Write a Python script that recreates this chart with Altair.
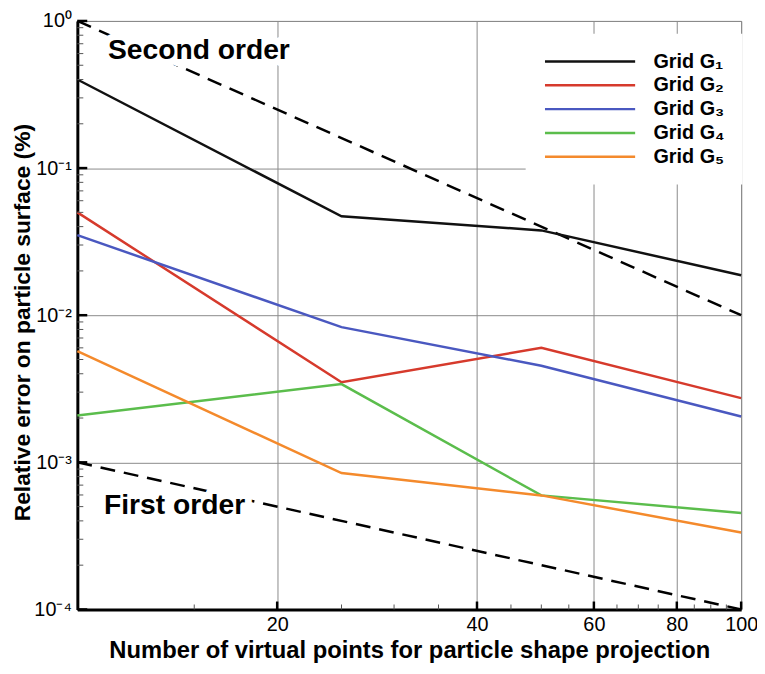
import altair as alt
import pandas as pd

# ---- data ----
x_points = [10, 25, 50, 100]
g1 = [0.40, 0.047, 0.0377, 0.0187]
g2 = [0.050, 0.0035, 0.0060, 0.00273]
g3 = [0.035, 0.0083, 0.00453, 0.00205]
g4 = [0.00208, 0.0034, 0.000596, 0.000453]
g5 = [0.0057, 0.000845, 0.000596, 0.000333]
series_names = ["Grid G₁", "Grid G₂", "Grid G₃", "Grid G₄", "Grid G₅"]
series_colors = ["#111111", "#d63a2c", "#4a58c0", "#5bbd4c", "#f48a2c"]

second_x = [10, 100]
second_y = [1.0, 0.01]
first_x = [10, 100]
first_y = [0.001, 0.0001]

ann_text = ["Second order", "First order"]
ann_x = [11.12, 10.97]
ann_y = [0.638, 0.000511]

x_tick_values = [20, 40, 60, 80, 100]
x_minor_ticks = [15, 25, 30, 35, 45, 50, 55, 65, 70, 75, 85, 90, 95]
y_tick_values = [0.0001, 0.001, 0.01, 0.1, 1]
y_tick_labels = ["10⁻⁴", "10⁻³", "10⁻²", "10⁻¹", "10⁰"]
y_minor_ticks = [
    0.0002, 0.0003, 0.0004, 0.0005, 0.0006, 0.0007, 0.0008, 0.0009,
    0.002, 0.003, 0.004, 0.005, 0.006, 0.007, 0.008, 0.009,
    0.02, 0.03, 0.04, 0.05, 0.06, 0.07, 0.08, 0.09,
    0.2, 0.3, 0.4, 0.5, 0.6, 0.7, 0.8, 0.9,
]

W, H = 670, 594
FONT = "Liberation Sans"

rows = []
for name, vals in zip(series_names, [g1, g2, g3, g4, g5]):
    for xv, yv in zip(x_points, vals):
        rows.append({"x": xv, "y": yv, "series": name})
df = pd.DataFrame(rows)

ref_df = pd.DataFrame(
    [{"x": a, "y": b, "kind": "second"} for a, b in zip(second_x, second_y)]
    + [{"x": a, "y": b, "kind": "first"} for a, b in zip(first_x, first_y)]
)
ann_df = pd.DataFrame({"x": ann_x, "y": ann_y, "label": ann_text})

xs = alt.Scale(type="log", domain=[10, 100], nice=False)
ys = alt.Scale(type="log", domain=[0.0001, 1], nice=False)

label_expr = "[" + ",".join("'%s'" % s for s in y_tick_labels) + "][round(log(datum.value)/LN10)+4]"

x_axis = alt.Axis(
    values=x_tick_values, format="d", labelFont=FONT, labelFontSize=20, labelColor="black",
    labelPadding=5, labelFlush=False, ticks=False, domainColor="black", domainWidth=3,
    grid=True, gridColor="#8a8a8a", gridWidth=1,
    title="Number of virtual points for particle shape projection",
    titleFont=FONT, titleFontSize=24, titleFontWeight="bold", titleColor="black",
    titleBaseline="alphabetic", titleY=49,
)
y_axis = alt.Axis(
    values=y_tick_values, labelExpr=label_expr, labelFont=FONT, labelFontSize=20,
    labelColor="black", labelPadding=6, ticks=False, domainColor="black", domainWidth=3,
    grid=True, gridColor="#8a8a8a", gridWidth=1,
    title="Relative error on particle surface (%)",
    titleFont=FONT, titleFontSize=23, titleFontWeight="bold", titleColor="black",
    titleBaseline="bottom", titleX=-43, titleY=304,
)


def X():
    return alt.X("x:Q", scale=xs, axis=x_axis)


def Y():
    return alt.Y("y:Q", scale=ys, axis=y_axis)


ref_lines = alt.Chart(ref_df).mark_line(color="black", strokeWidth=2.5, strokeDash=[15, 9]).encode(
    x=X(), y=Y(), detail="kind:N"
)

halo = alt.Chart(ann_df).mark_text(
    align="left", baseline="middle", font=FONT, fontSize=28.5, fontWeight="bold",
    color="white", stroke="white", strokeWidth=14, strokeJoin="round",
).encode(x=X(), y=Y(), text="label:N")

ann = alt.Chart(ann_df).mark_text(
    align="left", baseline="middle", font=FONT, fontSize=28.5, fontWeight="bold", color="black",
).encode(x=X(), y=Y(), text="label:N")

lines = alt.Chart(df).mark_line(strokeWidth=2.5).encode(
    x=X(), y=Y(),
    color=alt.Color(
        "series:N",
        scale=alt.Scale(domain=series_names, range=series_colors),
        sort=series_names,
        legend=alt.Legend(
            title=None, orient="none", legendX=452.5, legendY=13, fillColor="white",
            padding=18, symbolType="stroke", symbolSize=8281, symbolStrokeWidth=2.5,
            labelFont=FONT, labelFontSize=20, labelFontWeight="bold", labelColor="black",
            labelOffset=17, rowPadding=4, clipHeight=20, labelLimit=200,
        ),
    ),
)

x_major = alt.Chart(pd.DataFrame({"x": x_tick_values})).mark_tick(
    orient="vertical", size=8, thickness=2.5, color="black", opacity=1
).encode(x=X(), y=alt.value(H - 4))
x_minor = alt.Chart(pd.DataFrame({"x": x_minor_ticks})).mark_tick(
    orient="vertical", size=5, thickness=1, color="#555555", opacity=1
).encode(x=X(), y=alt.value(H - 2.5))
y_major = alt.Chart(pd.DataFrame({"y": y_tick_values})).mark_tick(
    orient="horizontal", size=10, thickness=2.5, color="black", opacity=1
).encode(y=Y(), x=alt.value(5))
y_minor = alt.Chart(pd.DataFrame({"y": y_minor_ticks})).mark_tick(
    orient="horizontal", size=6, thickness=1, color="#555555", opacity=1
).encode(y=Y(), x=alt.value(3))

chart = alt.layer(
    ref_lines, halo, ann, lines, x_minor, x_major, y_minor, y_major
).properties(
    width=W, height=H,
    padding={"left": 70, "top": 10, "right": 16, "bottom": 54},
    autosize=alt.AutoSizeParams(type="none"),
).configure_view(stroke="#8a8a8a", strokeWidth=1)

chart.save("out.html", embed_options={"renderer": "svg", "actions": False})
